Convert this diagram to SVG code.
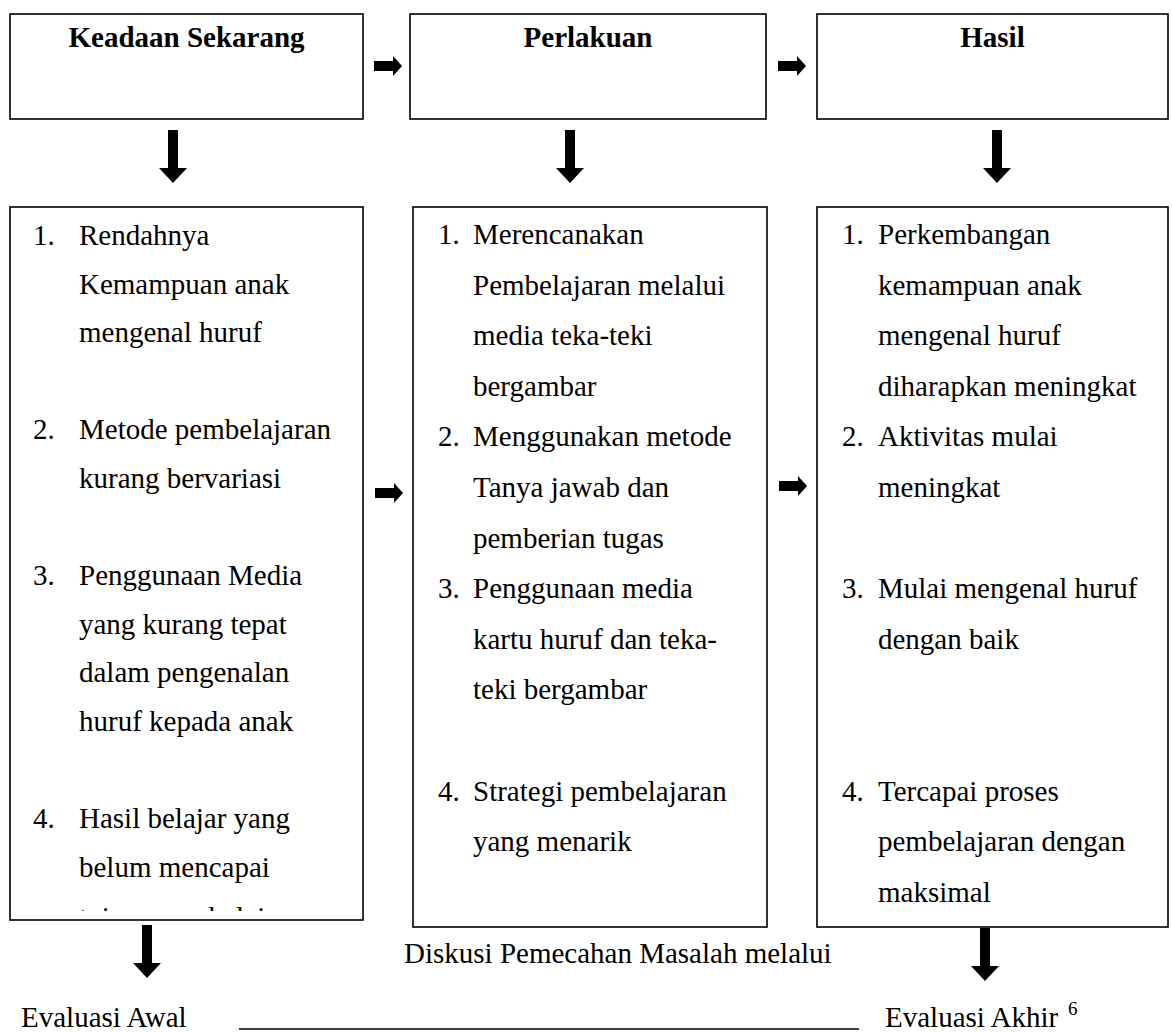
<svg xmlns="http://www.w3.org/2000/svg" xmlns:xlink="http://www.w3.org/1999/xlink" width="1172" height="1032" viewBox="0 0 1172 1032" font-family="'Liberation Serif', 'DejaVu Serif', serif">
  <style>
    .box { fill: #ffffff; stroke: #000000; stroke-width: 1.6; }
    .t { font-family: 'Liberation Serif', 'DejaVu Serif', serif; font-size: 29px; fill: #000000; }
    .title { font-family: 'Liberation Serif', 'DejaVu Serif', serif; font-size: 29px; font-weight: bold; fill: #000000; text-anchor: middle; }
    .sup { font-family: 'Liberation Serif', 'DejaVu Serif', serif; font-size: 19px; fill: #000000; }
    .arr { fill: #000000; }
  </style>
  <defs>
    <path id="down" d="M-5,0 H5 V38 H14 L0,53 L-14,38 H-5 Z"/>
    <path id="right" d="M0,-5 H19 V-10 L28,0 L19,10 V5 H0 Z"/>
    <clipPath id="clipLeft">
      <rect x="10" y="207" width="353" height="704"/>
    </clipPath>
  </defs>
  <rect width="1172" height="1032" fill="#ffffff"/>

  <g id="node-keadaan">
    <rect class="box" x="10" y="14" width="353" height="105"/>
    <text class="title" x="186.5" y="47">Keadaan Sekarang</text>
  </g>
  <g id="node-perlakuan">
    <rect class="box" x="410" y="14" width="356" height="105"/>
    <text class="title" x="588" y="47">Perlakuan</text>
  </g>
  <g id="node-hasil">
    <rect class="box" x="817" y="14" width="351" height="105"/>
    <text class="title" x="992.5" y="47">Hasil</text>
  </g>

  <g id="node-keadaan-list">
    <rect class="box" x="10" y="207" width="353" height="713"/>
    <g class="t">
      <text x="33" y="245">1.</text><text x="79" y="245">Rendahnya</text>
      <text x="79" y="293.6">Kemampuan anak</text>
      <text x="79" y="342.2">mengenal huruf</text>
      <text x="33" y="439.4">2.</text><text x="79" y="439.4">Metode pembelajaran</text>
      <text x="79" y="488">kurang bervariasi</text>
      <text x="33" y="585.2">3.</text><text x="79" y="585.2">Penggunaan Media</text>
      <text x="79" y="633.8">yang kurang tepat</text>
      <text x="79" y="682.4">dalam pengenalan</text>
      <text x="79" y="731">huruf kepada anak</text>
      <text x="33" y="828.2">4.</text><text x="79" y="828.2">Hasil belajar yang</text>
      <text x="79" y="876.8">belum mencapai</text>
      <text x="79" y="927" clip-path="url(#clipLeft)">tujuan pembelajaran</text>
    </g>
  </g>

  <g id="node-perlakuan-list">
    <rect class="box" x="413" y="207" width="354" height="720"/>
    <g class="t">
      <text x="438" y="244">1.</text><text x="473" y="244">Merencanakan</text>
      <text x="473" y="294.6">Pembelajaran melalui</text>
      <text x="473" y="345.2">media teka-teki</text>
      <text x="473" y="395.8">bergambar</text>
      <text x="438" y="446.4">2.</text><text x="473" y="446.4">Menggunakan metode</text>
      <text x="473" y="497">Tanya jawab dan</text>
      <text x="473" y="547.6">pemberian tugas</text>
      <text x="438" y="598.2">3.</text><text x="473" y="598.2">Penggunaan media</text>
      <text x="473" y="648.8">kartu huruf dan teka-</text>
      <text x="473" y="699.4">teki bergambar</text>
      <text x="438" y="800.6">4.</text><text x="473" y="800.6">Strategi pembelajaran</text>
      <text x="473" y="851.2">yang menarik</text>
    </g>
  </g>

  <g id="node-hasil-list">
    <rect class="box" x="817" y="207" width="351" height="720"/>
    <g class="t">
      <text x="842" y="244">1.</text><text x="878" y="244">Perkembangan</text>
      <text x="878" y="294.6">kemampuan anak</text>
      <text x="878" y="345.2">mengenal huruf</text>
      <text x="878" y="395.8">diharapkan meningkat</text>
      <text x="842" y="446.4">2.</text><text x="878" y="446.4">Aktivitas mulai</text>
      <text x="878" y="497">meningkat</text>
      <text x="842" y="598.2">3.</text><text x="878" y="598.2">Mulai mengenal huruf</text>
      <text x="878" y="648.8">dengan baik</text>
      <text x="842" y="800.6">4.</text><text x="878" y="800.6">Tercapai proses</text>
      <text x="878" y="851.2">pembelajaran dengan</text>
      <text x="878" y="901.8">maksimal</text>
    </g>
  </g>

  <g id="node-diskusi">
    <text class="t" x="404" y="963">Diskusi Pemecahan Masalah melalui</text>
    <line x1="239" y1="1029" x2="859" y2="1029" stroke="#000000" stroke-width="1.5"/>
  </g>
  <g id="node-evaluasi-awal">
    <text class="t" x="21" y="1027">Evaluasi Awal</text>
  </g>
  <g id="node-evaluasi-akhir">
    <text class="t" x="885" y="1027">Evaluasi Akhir</text>
    <text class="sup" x="1068" y="1015">6</text>
  </g>

  <g id="connectors" class="arr">
    <use xlink:href="#right" x="374" y="66"/>
    <use xlink:href="#right" x="778" y="66"/>
    <use xlink:href="#right" x="375" y="493"/>
    <use xlink:href="#right" x="779" y="486"/>
    <use xlink:href="#down" x="173" y="130"/>
    <use xlink:href="#down" x="570" y="130"/>
    <use xlink:href="#down" x="997" y="130"/>
    <use xlink:href="#down" x="147" y="925"/>
    <use xlink:href="#down" x="985" y="928"/>
  </g>
</svg>
